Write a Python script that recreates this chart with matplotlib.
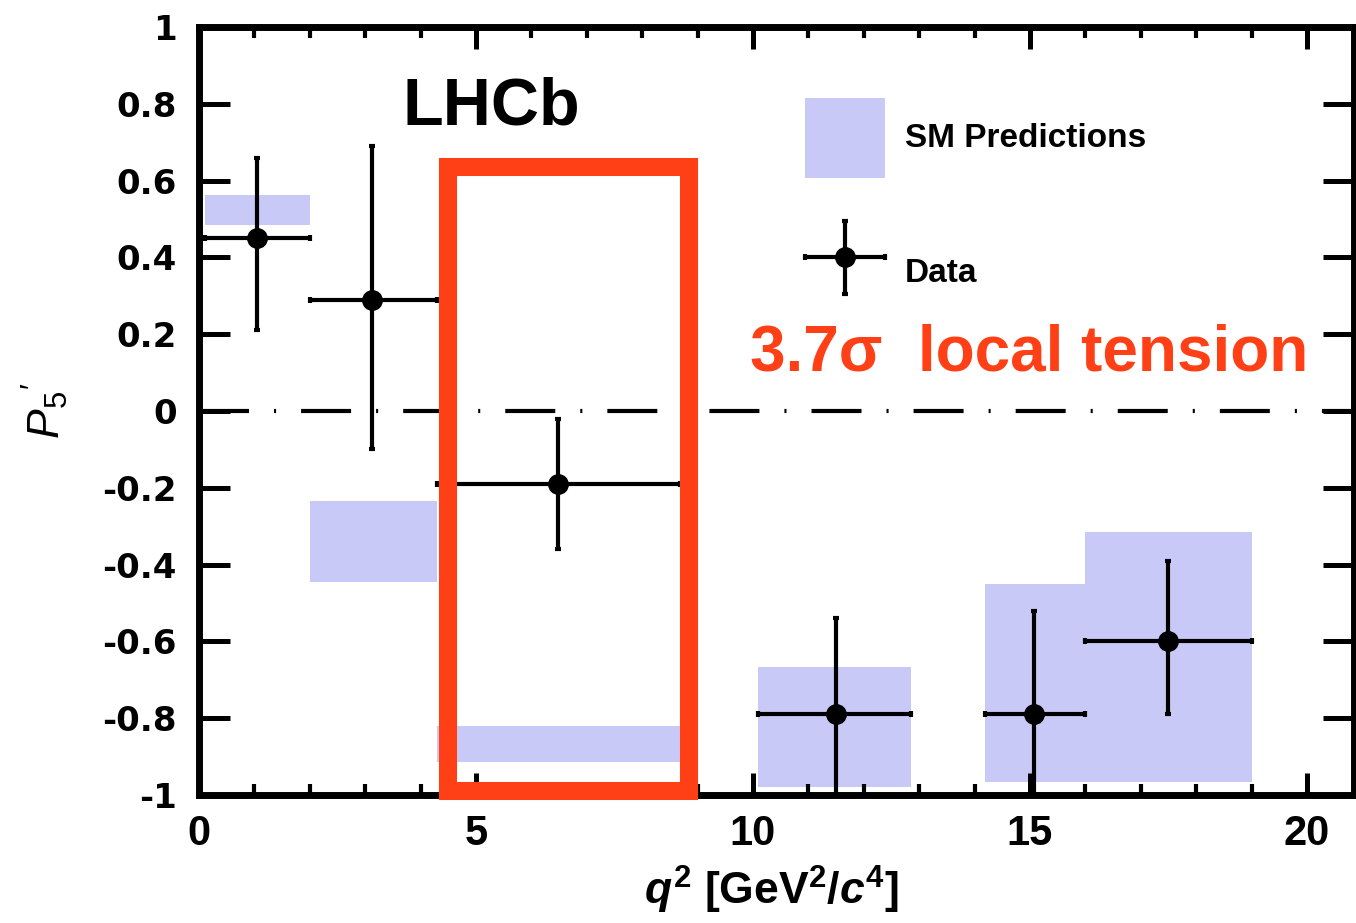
import matplotlib
matplotlib.use("Agg")
import matplotlib.pyplot as plt
import numpy as np
from matplotlib.patches import Rectangle
from matplotlib.container import ErrorbarContainer
from matplotlib.legend_handler import HandlerErrorbar
from matplotlib.ticker import FixedLocator, FixedFormatter, MultipleLocator

plt.rcParams["font.family"] = ["Liberation Sans", "DejaVu Sans"]
plt.rcParams["mathtext.fontset"] = "custom"
plt.rcParams["mathtext.rm"] = "Liberation Sans"
plt.rcParams["mathtext.it"] = "Liberation Sans:bold:italic"
plt.rcParams["mathtext.bf"] = "Liberation Sans:bold"
plt.rcParams["mathtext.sf"] = "Liberation Sans:italic"
plt.rcParams["lines.scale_dashes"] = False

# q^2 bins [GeV^2/c^4]
bin_lo = [0.1, 2.0, 4.3, 10.09, 14.18, 16.0]
bin_hi = [2.0, 4.3, 8.68, 12.86, 16.0, 19.0]

# measured P5' with asymmetric uncertainties
data_x = [1.05, 3.12, 6.48, 11.5, 15.07, 17.49]
data_y = [0.45, 0.29, -0.19, -0.79, -0.79, -0.60]
err_up = [0.21, 0.40, 0.17, 0.25, 0.27, 0.21]
err_dn = [0.24, 0.39, 0.17, 0.25, 0.25, 0.19]

# SM prediction bands (lower / upper edge)
sm_lo = [0.484, -0.445, -0.915, -0.98, -0.966, -0.966]
sm_hi = [0.563, -0.234, -0.82, -0.667, -0.45, -0.315]

x_ticks = [0, 5, 10, 15, 20]
x_tick_labels = ["0", "5", "10", "15", "20"]
y_ticks = [-1.0, -0.8, -0.6, -0.4, -0.2, 0.0, 0.2, 0.4, 0.6, 0.8, 1.0]
y_tick_labels = ["-1", "-0.8", "-0.6", "-0.4", "-0.2", "0", "0.2", "0.4", "0.6", "0.8", "1"]

# highlighted bin and annotation
tension_bin = 2
tension_text = "3.7\u03c3  local tension"

SM_COLOR = "#C9C9F7"
RED = "#FF4016"

fig = plt.figure(figsize=(13.56, 9.23), dpi=100)
ax = fig.add_axes([199 / 1356, 128 / 923, 1155 / 1356, 768 / 923])

lo = np.array(bin_lo)
hi = np.array(bin_hi)
sm = ax.bar(lo, np.array(sm_hi) - np.array(sm_lo), width=hi - lo,
            bottom=sm_lo, align="edge", color=SM_COLOR, lw=0, zorder=1)

ax.axhline(0, color="black", lw=3, dashes=(36, 18, 1.5, 18), zorder=2)

dx = np.array(data_x)
eb = ax.errorbar(dx, data_y, xerr=[dx - lo, hi - dx], yerr=[err_dn, err_up],
                 fmt="o", color="black", ms=14, elinewidth=3,
                 capsize=2, capthick=3, zorder=4)

# box around the bin in tension
b0 = bin_lo[tension_bin] + 0.19
b1 = bin_hi[tension_bin] + 0.17
ax.add_patch(Rectangle((b0, -0.99), b1 - b0, 1.625, fill=False,
                       ec=RED, lw=13, joinstyle="miter", clip_on=False, zorder=5))

ax.set_xlim(0, 20.85)
ax.set_ylim(-1, 1)

ax.xaxis.set_major_locator(FixedLocator(x_ticks))
ax.xaxis.set_major_formatter(FixedFormatter(x_tick_labels))
ax.xaxis.set_minor_locator(MultipleLocator(1))
ax.yaxis.set_major_locator(FixedLocator(y_ticks))
ax.yaxis.set_major_formatter(FixedFormatter(y_tick_labels))

ax.tick_params(axis="both", which="both", direction="in", top=True, right=True)
ax.tick_params(axis="x", which="major", length=16, width=3.6, pad=14)
ax.tick_params(axis="x", which="minor", length=8, width=3)
ax.tick_params(axis="y", which="major", length=22, width=3.6, pad=16)
for lab in ax.get_xticklabels():
    lab.set_fontfamily("Liberation Sans")
    lab.set_fontweight("bold")
    lab.set_fontsize(30)
for lab in ax.get_yticklabels():
    lab.set_fontfamily("DejaVu Sans")
    lab.set_fontweight("bold")
    lab.set_fontsize(24.5)

for s in ax.spines.values():
    s.set_linewidth(5)

ax.set_xlabel(r"$q^{\mathbf{2}}$ [GeV$^{\mathbf{2}}$/$c^{\mathbf{4}}$]",
              fontsize=32, fontweight="bold")
ax.xaxis.set_label_coords(0.496, -0.09)
ax.text(-0.1333, 0.5, r"$\mathsf{P}_5{}^{\prime}$", transform=ax.transAxes,
        rotation=90, ha="center", va="center", fontsize=32)

ax.text(0.1766, 0.8724, "LHCb", transform=ax.transAxes, fontsize=48,
        fontweight="bold", ha="left", va="baseline")
ax.text(0.477, 0.553, tension_text, transform=ax.transAxes, fontsize=46,
        fontweight="bold", color=RED, ha="left", va="baseline", zorder=6)

leg = ax.legend([sm, eb], ["SM Predictions", "Data"],
                handler_map={ErrorbarContainer: HandlerErrorbar(xerr_size=1.2, yerr_size=1.1)},
                loc="upper left", bbox_to_anchor=(0.5247, 0.9076), borderpad=0,
                borderaxespad=0, frameon=False, prop=dict(weight="bold", size=24),
                handlelength=2.4, handleheight=3.3, handletextpad=0.6, labelspacing=1.65)

fig.savefig("out.png", dpi=100)
